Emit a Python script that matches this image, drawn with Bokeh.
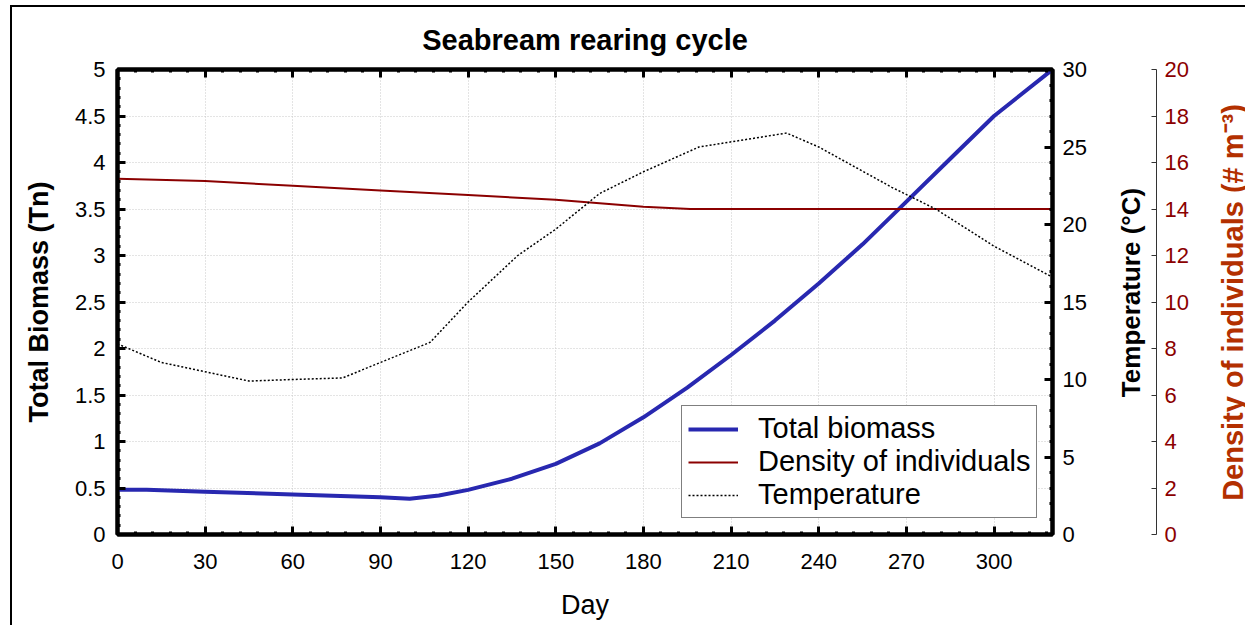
import math
from bokeh.plotting import figure
from bokeh.models import Range1d, LinearAxis, FixedTicker, Legend, LegendItem, Label
from bokeh.embed import file_html
from bokeh.resources import INLINE

# ---- data ----
bio_day = [0, 10, 30, 60, 90, 100, 110, 120, 135, 150, 165, 180, 195, 210, 225, 240, 255, 270, 285, 300, 320]
bio_val = [0.48, 0.48, 0.46, 0.43, 0.40, 0.385, 0.42, 0.48, 0.60, 0.76, 0.98, 1.26, 1.58, 1.93, 2.30, 2.70, 3.12, 3.58, 4.04, 4.50, 5.00]

dens_day = [0, 30, 60, 90, 120, 150, 165, 180, 196, 320]
dens_val = [15.3, 15.2, 15.0, 14.8, 14.6, 14.4, 14.25, 14.1, 14.0, 14.0]

temp_day = [0, 15, 45, 60, 77, 90, 107, 120, 137, 150, 165, 180, 199, 229, 240, 265, 280, 300, 320]
temp_val = [12.3, 11.1, 9.9, 10.0, 10.1, 11.1, 12.4, 15.0, 18.0, 19.7, 22.0, 23.4, 25.0, 25.9, 25.0, 22.4, 21.0, 18.6, 16.6]

x_ticks = [0, 30, 60, 90, 120, 150, 180, 210, 240, 270, 300]
bio_ticks = [0, 0.5, 1, 1.5, 2, 2.5, 3, 3.5, 4, 4.5, 5]
temp_ticks = [0, 5, 10, 15, 20, 25, 30]
dens_ticks = [0, 2, 4, 6, 8, 10, 12, 14, 16, 18, 20]

FONT = "Liberation Sans"

p = figure(width=1235, height=620, output_backend="svg", toolbar_location=None,
           x_range=Range1d(0, 320), y_range=Range1d(0, 5),
           min_border_left=105, min_border_right=195, min_border_top=62, min_border_bottom=93,
           x_axis_location=None, y_axis_location=None)
p.styles = {"margin-left": "10px", "margin-top": "5px",
            "border-left": "2px solid black", "border-top": "2px solid black"}
p.extra_y_ranges = {"temp": Range1d(0, 30), "dens": Range1d(0, 20)}
p.outline_line_color = "black"
p.outline_line_width = 4
p.background_fill_color = "white"
p.border_fill_color = "white"

def style_main(ax, ticks, minor, labels=True):
    ax.ticker = FixedTicker(ticks=ticks, minor_ticks=minor)
    ax.axis_line_width = 4
    ax.axis_line_color = "black"
    ax.major_tick_in = 8
    ax.major_tick_out = 0
    ax.major_tick_line_width = 3
    ax.minor_tick_in = 3
    ax.minor_tick_out = 0
    ax.minor_tick_line_width = 3
    ax.major_label_text_font = FONT
    ax.major_label_text_font_size = "22px"
    ax.major_label_text_color = "black"
    ax.axis_label_text_font = FONT
    ax.axis_label_text_font_style = "bold"
    ax.axis_label_text_font_size = "26px"
    ax.axis_label_text_color = "black"
    if not labels:
        ax.major_label_text_font_size = "0px"

x_minor = [d for d in range(0, 321, 6)]
xb = LinearAxis(axis_label="Day")
style_main(xb, x_ticks, x_minor)
xb.axis_label_text_font_style = "normal"
xb.axis_label_text_font_size = "27px"
xb.major_label_standoff = 19
xb.axis_label_standoff = 18
p.add_layout(xb, "below")

xt = LinearAxis()
style_main(xt, x_ticks, x_minor, labels=False)
xt.major_label_standoff = 0
p.add_layout(xt, "above")

bio_minor = [round(i * 0.1, 1) for i in range(0, 51)]
yl = LinearAxis(axis_label="Total Biomass (Tn)")
style_main(yl, bio_ticks, bio_minor)
yl.axis_label_text_font_size = "27px"
yl.major_label_overrides = {t: ("%g" % t) for t in bio_ticks}
yl.major_label_standoff = 12
yl.axis_label_standoff = 18
p.add_layout(yl, "left")

# temperature axis: its title is drawn as a Label (reading upwards)
yt = LinearAxis(y_range_name="temp", axis_label=" ")
style_main(yt, temp_ticks, list(range(0, 31, 1)))
yt.major_label_standoff = 10
yt.axis_label_standoff = 4
p.add_layout(yt, "right")

temp_title = Label(x=1116, y=283, x_units="canvas", y_units="canvas",
                   text="Temperature (°C)", angle=math.pi / 2,
                   text_align="center", text_baseline="middle",
                   text_font=FONT, text_font_size="26px", text_font_style="bold",
                   text_color="black")
p.add_layout(temp_title, "right")

yd = LinearAxis(y_range_name="dens")
yd.ticker = FixedTicker(ticks=dens_ticks, minor_ticks=[])
yd.axis_line_width = 1
yd.axis_line_color = "#333333"
yd.major_tick_in = 5
yd.major_tick_out = 0
yd.major_tick_line_color = "#333333"
yd.major_label_standoff = 8
yd.major_label_text_font = FONT
yd.major_label_text_font_size = "22px"
yd.major_label_text_color = "#8b0000"
p.add_layout(yd, "right")

dens_title = Label(x=1218, y=293, x_units="canvas", y_units="canvas",
                   text="Density of individuals (# m⁻³)", angle=math.pi / 2,
                   text_align="center", text_baseline="middle",
                   text_font=FONT, text_font_size="29px", text_font_style="bold",
                   text_color="#b33000")
p.add_layout(dens_title, "right")

p.xgrid.ticker = FixedTicker(ticks=x_ticks)
p.ygrid.ticker = FixedTicker(ticks=bio_ticks)
for g in (p.xgrid, p.ygrid):
    g.grid_line_color = "#c8c8c8"
    g.grid_line_dash = "1 2"
    g.grid_line_width = 1

r_bio = p.line(bio_day, bio_val, line_color="#2828b0", line_width=4)
r_dens = p.line(dens_day, dens_val, y_range_name="dens", line_color="#8b0000", line_width=2)
r_temp = p.line(temp_day, temp_val, y_range_name="temp", line_color="black", line_width=1.5, line_dash="2 2")

legend = Legend(items=[LegendItem(label="Total biomass", renderers=[r_bio]),
                       LegendItem(label="Density of individuals", renderers=[r_dens]),
                       LegendItem(label="Temperature", renderers=[r_temp])],
                location=(564, 16))
legend.label_text_font = FONT
legend.label_text_font_size = "29px"
legend.label_text_color = "black"
legend.label_standoff = 20
legend.border_line_color = "black"
legend.border_line_width = 1
legend.glyph_width = 50
legend.label_height = 30
legend.glyph_height = 30
legend.spacing = 0
legend.padding = 6
legend.margin = 0
legend.background_fill_alpha = 1
p.add_layout(legend, "center")

p.title.text = "Seabream rearing cycle"
p.title.text_font = FONT
p.title.text_font_size = "29px"
p.title.text_font_style = "bold"
p.title.text_color = "black"
p.title.align = "center"
p.title.standoff = 27

open("out.html", "w").write(file_html(p, INLINE))
